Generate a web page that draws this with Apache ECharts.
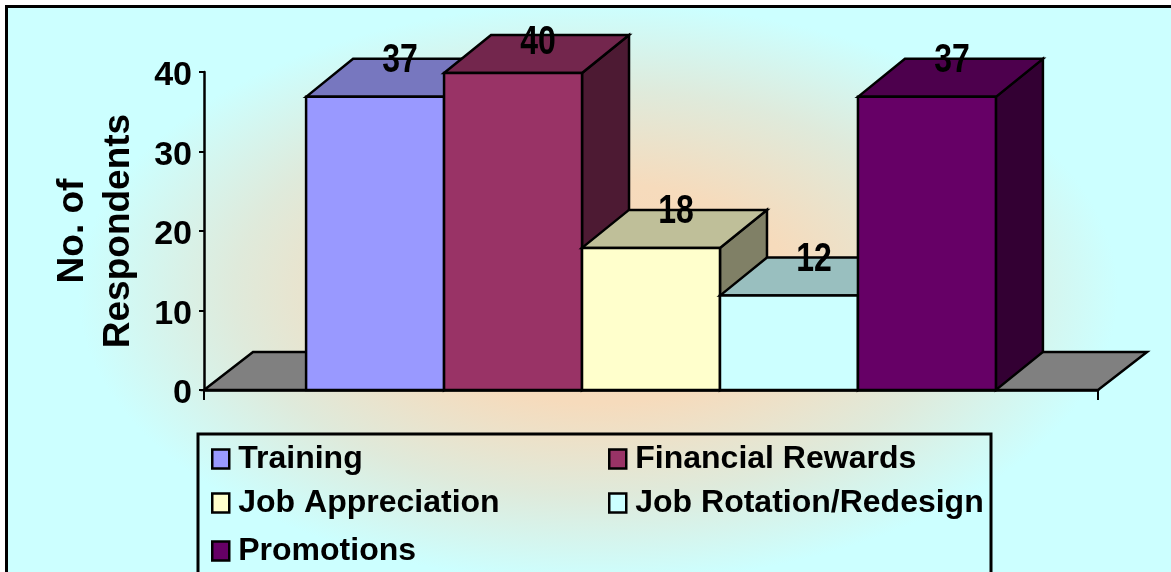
<!DOCTYPE html>
<html>
<head>
<meta charset="utf-8">
<style>
html,body{margin:0;padding:0;background:#fff;overflow:hidden}
#bg{position:absolute;left:5px;top:5px;width:1170px;height:570px;border-left:3px solid #000;border-top:3px solid #000;
background:radial-gradient(ellipse 520px 290px at 590px 285px,#f8d8b8 0%,#f6dbbc 38%,#dfeadb 70%,#ccffff 100%)}
#c{position:absolute;left:0;top:0;width:1171px;height:572px}
</style>
</head>
<body>
<div id="bg"></div>
<div id="c"></div>
<script src="https://cdn.jsdelivr.net/npm/echarts@6/dist/echarts.min.js"></script>
<script>
const seriesNames = ['Training', 'Financial Rewards', 'Job Appreciation', 'Job Rotation/Redesign', 'Promotions'];
const seriesValues = [37, 40, 18, 12, 37];
const frontColors = ['#9999ff', '#993366', '#ffffcc', '#ccffff', '#660066'];
const topColors = ['#7777bf', '#73264d', '#bfbf99', '#99bfbf', '#4d004d'];
const sideColors = ['#4d4d80', '#4d1a33', '#808066', '#668080', '#330033'];
const yTicks = [0, 10, 20, 30, 40];
const legendSpots = [[209, 436], [606, 436], [209, 480], [606, 480], [209, 528]];

const DX = 47, DY = -38, SLOTS = 6.48;
const sans = '"Liberation Sans",Arial,sans-serif';
const edge = {stroke: '#000', lineWidth: 2.5, lineJoin: 'miter'};

function face(points, fill) {
  return {type: 'polygon', shape: {points}, style: Object.assign({fill}, edge)};
}
function barRenderer(i) {
  return function (params, api) {
    const top = api.coord([0, api.value(1)]);
    const base = api.coord([0, 0]);
    const w = api.size([1, 0])[0] / SLOTS;
    const x0 = top[0] - w * 2.5 + i * w, x1 = x0 + w;
    const y0 = top[1] + 1, y1 = base[1];
    return {type: 'group', children: [
      face([[x1, y0], [x1 + DX, y0 + DY], [x1 + DX, y1 + DY], [x1, y1]], sideColors[i]),
      face([[x0, y0], [x0 + DX, y0 + DY], [x1 + DX, y0 + DY], [x1, y0]], topColors[i]),
      face([[x0, y0], [x1, y0], [x1, y1], [x0, y1]], frontColors[i]),
      {type: 'text', z2: 100, x: (x0 + x1) / 2 + 25, y: Math.max(y0 + DY, 41) + 2, scaleX: 0.8,
        style: {text: String(api.value(1)), font: 'bold 40px ' + sans, fill: '#000', align: 'center', verticalAlign: 'middle'}}
    ]};
  };
}
function floorRenderer(params, api) {
  const cs = params.coordSys;
  const y = api.coord([0, 0])[1], l = cs.x, r = cs.x + cs.width;
  return face([[l, y], [l + 49, y + DY], [r + 49, y + DY], [r, y]], '#808080');
}

const series = [{type: 'custom', name: 'floor', silent: true, renderItem: floorRenderer, data: [['', 0]], encode: {x: 0, y: 1}}];
seriesNames.forEach((name, i) => series.push({
  type: 'custom', name, renderItem: barRenderer(i),
  data: [['', seriesValues[i]]], encode: {x: 0, y: 1},
  itemStyle: {color: frontColors[i]}
}));

const chart = echarts.init(document.getElementById('c'), null, {renderer: 'canvas'});
chart.setOption({
  animation: false,
  backgroundColor: 'transparent',
  grid: {left: 204, right: 73, top: 72, bottom: 182, outerBoundsMode: 'none'},
  xAxis: {type: 'category', data: [''], boundaryGap: true,
    axisLine: {onZero: false, lineStyle: {color: '#000', width: 2.5}},
    axisTick: {show: true, length: 10, alignWithLabel: false, lineStyle: {color: '#000', width: 2}},
    axisLabel: {show: false}},
  yAxis: {type: 'value', min: yTicks[0], max: yTicks[yTicks.length - 1], interval: 10,
    name: 'No. of\nRespondents', nameLocation: 'middle', nameRotate: 90, nameGap: 62,
    nameTextStyle: {fontFamily: sans, fontWeight: 'bold', fontSize: 37, color: '#000', lineHeight: 46},
    splitLine: {show: false},
    axisLine: {show: true, lineStyle: {color: '#000', width: 2.5}},
    axisTick: {show: true, length: 5, lineStyle: {color: '#000', width: 2}},
    axisLabel: {margin: 12, color: '#000', fontFamily: sans, fontWeight: 'bold', fontSize: 34, lineHeight: 8, formatter: v => '\n' + v}},
  legend: seriesNames.map((name, i) => ({
    data: [name], selectedMode: false, orient: 'horizontal', padding: 0,
    left: legendSpots[i][0] + 2, top: legendSpots[i][1],
    icon: 'rect', itemWidth: 17, itemHeight: 19,
    itemStyle: {borderColor: '#000', borderWidth: 2.5},
    textStyle: {color: '#000', fontFamily: sans, fontWeight: 'bold', fontSize: 32, padding: [0, 0, 0, 4], height: 46, lineHeight: 46}
  })),
  graphic: [{type: 'rect', z: 1, silent: true, shape: {x: 198, y: 434, width: 793, height: 200},
    style: {fill: 'transparent', stroke: '#000', lineWidth: 3}}],
  series
});
</script>
</body>
</html>
